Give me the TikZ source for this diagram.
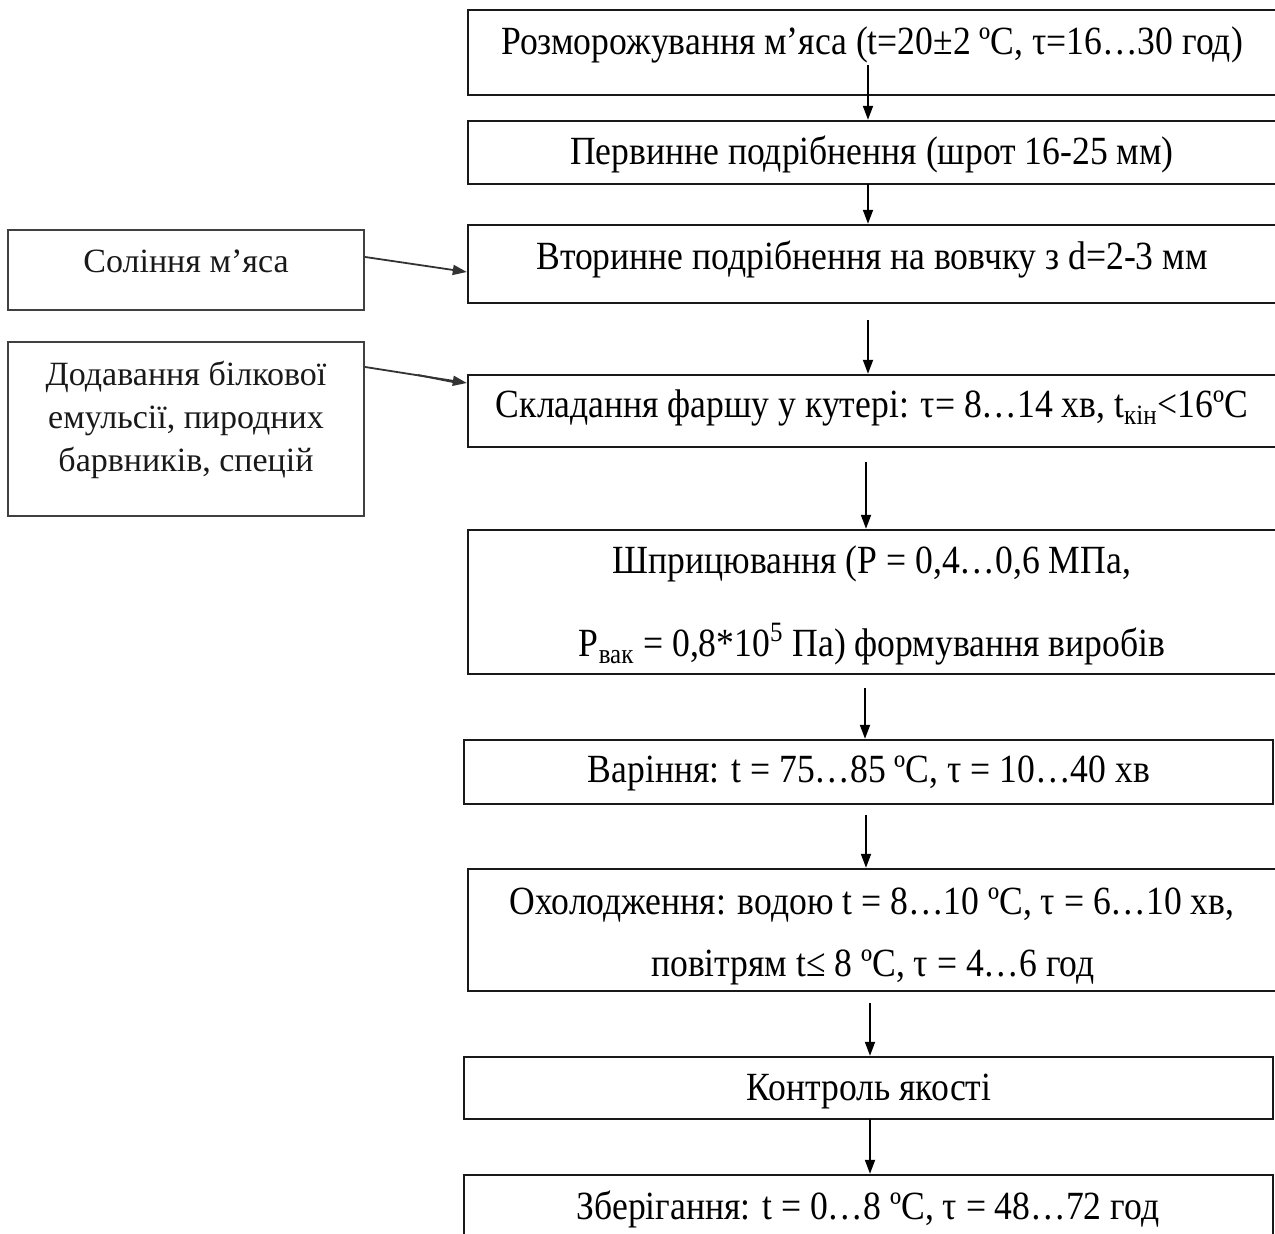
\documentclass[tikz,border=0pt]{standalone}
\usepackage{fontspec}
\setmainfont{Liberation Serif}
\newfontfamily\narrowserif[FakeStretch=0.89]{Liberation Serif}
\usetikzlibrary{arrows.meta}
\newcommand\bx[6]{\node[#1, minimum width={(#4-#2)*0.5pt}, minimum height={(#5-#3)*0.5pt}] (#6) at ({(#2+#4)/2},{(#3+#5)/2}) {};}
\begin{document}
\begin{tikzpicture}[x=0.5pt,y=-0.5pt,
  procbox/.style={draw=black!90, line width=1.2pt, rectangle, inner sep=0pt},
  sidebox/.style={draw=black!75, line width=1.1pt, rectangle, inner sep=0pt},
  proctext/.style={anchor=base, inner sep=0pt, font=\narrowserif\fontsize{20}{24}\selectfont},
  sidetext/.style={anchor=base, inner sep=0pt, text=black!90, font=\fontsize{17}{21.5}\selectfont},
  arr/.style={draw=black, line width=0.9pt, -{Triangle[length=7pt,width=5pt]}},
]
\useasboundingbox (0,0) rectangle (1275,1234);
\clip (0,0) rectangle (1275,1234);

% process boxes
\bx{procbox}{468}{10}{1277}{95}{b1}
\bx{procbox}{468}{121}{1277}{184}{b2}
\bx{procbox}{468}{225}{1277}{303}{b3}
\bx{procbox}{468}{375}{1277}{447}{b4}
\bx{procbox}{468}{530}{1277}{674}{b5}
\bx{procbox}{464}{740}{1273}{804}{b6}
\bx{procbox}{468}{869}{1277}{991}{b7}
\bx{procbox}{464}{1057}{1273}{1119}{b8}
\bx{procbox}{464}{1175}{1273}{1260}{b9}

% side boxes
\bx{sidebox}{8}{230}{364}{310}{l1}
\bx{sidebox}{8}{342}{364}{516}{l2}

% texts
\node[proctext] (t1) at (872,55) {Розморожування м’яса (t=20±2 ºC, τ=16…30 год)};
\node[proctext] (t2) at (872,165) {Первинне подрібнення (шрот 16-25 мм)};
\node[proctext] (t3) at (872,270) {Вторинне подрібнення на вовчку з d=2-3 мм};
\node[proctext] (t4) at (872,418) {Складання фаршу у кутері: τ= 8…14 хв, t\textsubscript{кін}<16ºC};
\node[proctext] (t5a) at (872,574) {Шприцювання (Р = 0,4…0,6 МПа,};
\node[proctext] (t5b) at (872,657) {Р\textsubscript{вак} = 0,8*10\textsuperscript{5} Па) формування виробів};
\node[proctext] (t6) at (869,783) {Варіння: t = 75…85 ºC, τ = 10…40 хв};
\node[proctext] (t7a) at (872,914) {Охолодження: водою t = 8…10 ºC, τ = 6…10 хв,};
\node[proctext] (t7b) at (873,977) {повітрям t≤ 8 ºC, τ = 4…6 год};
\node[proctext] (t8) at (869,1100) {Контроль якості};
\node[proctext] (t9) at (868,1219) {Зберігання: t = 0…8 ºC, τ = 48…72 год};

\node[sidetext] (s1) at (186,273) {Соління м’яса};
\node[sidetext] (s2a) at (186,386) {Додавання білкової};
\node[sidetext] (s2b) at (186,429) {емульсії, пиродних};
\node[sidetext] (s2c) at (186,472) {барвників, спецій};

% vertical arrows
\coordinate (c12) at (868,65);
\coordinate (c23) at (868,184);
\coordinate (c34) at (868,320);
\coordinate (c45) at (866,462);
\coordinate (c56) at (865,688);
\coordinate (c67) at (866,815);
\coordinate (c78) at (870,1003);
\coordinate (c89) at (870,1119);
\draw[arr] (c12) -- (c12 |- b2.north);
\draw[arr] (c23) -- (c23 |- b3.north);
\draw[arr] (c34) -- (c34 |- b4.north);
\draw[arr] (c45) -- (c45 |- b5.north);
\draw[arr] (c56) -- (c56 |- b6.north);
\draw[arr] (c67) -- (c67 |- b7.north);
\draw[arr] (c78) -- (c78 |- b8.north);
\draw[arr] (c89) -- (c89 |- b9.north);

% side arrows
\coordinate (o1) at (l1.east |- 0,257);
\coordinate (o2) at (l2.east |- 0,367);
\draw[arr, draw=black!80] (o1) -- (b3.west |- 0,272);
\draw[arr, draw=black!80] (o2) -- (b4.west |- 0,383);
\draw[draw=black!80, line width=0.9pt] (418,375) -- (458,383);
\end{tikzpicture}
\end{document}
